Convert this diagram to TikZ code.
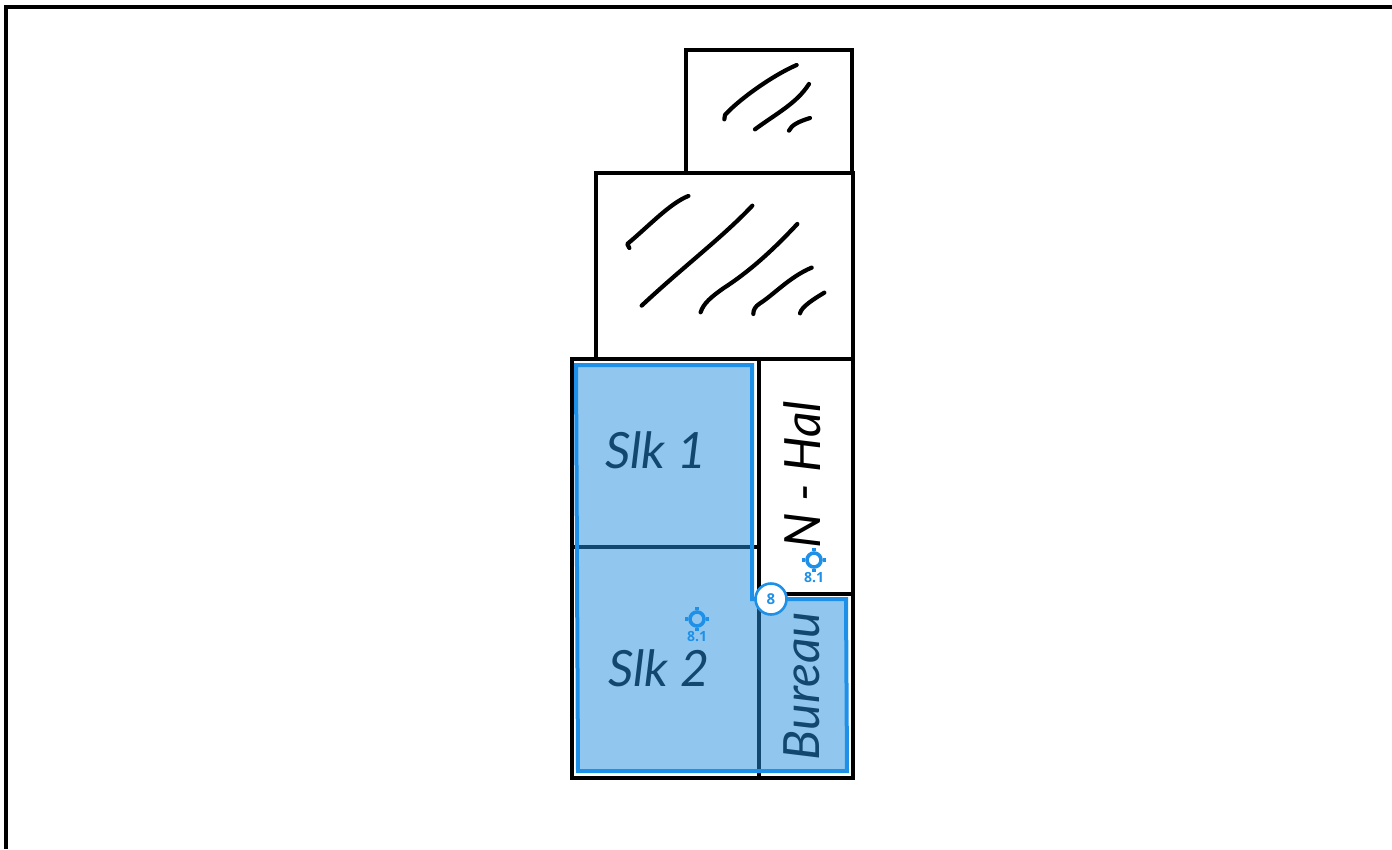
\documentclass[tikz,border=0pt]{standalone}
\usepackage{fontspec}
\setmainfont{Open Sans}
\newfontfamily\handfont{Lato}
\definecolor{mark}{HTML}{1F90E8}
\definecolor{zonefill}{HTML}{2490DF}
\tikzset{
  plan/.style={draw=black,line width=4.4pt,line join=miter,line cap=rect},
  hatchline/.style={draw=black,line width=4.2pt,line cap=round,line join=round},
  handtext/.style={font=\handfont\itshape\fontsize{50}{50}\selectfont,text=black,inner sep=0pt},
  handside/.style={font=\handfont\itshape\fontsize{50}{50}\selectfont,text=black,inner sep=0pt,rotate=90},
  marklabel/.style={font=\bfseries\fontsize{14}{14}\selectfont,text=mark,inner sep=0pt},
  ring/.style={circle,draw=mark,line width=3.6pt,minimum size=14pt,inner sep=0pt},
  tick/.style={draw=mark,line width=3.6pt},
  badge/.style={circle,draw=mark,fill=white,line width=2.6pt,minimum size=31pt,inner sep=0pt,text=mark,font=\bfseries\fontsize{15}{15}\selectfont}
}
\begin{document}
\begin{tikzpicture}[x=1pt,y=-1pt]
\useasboundingbox (0,0) rectangle (1392,849);
% outer frame
\draw[black,line width=3.6pt] (6,849) -- (6,7) -- (1392,7);
% plan
\draw[plan] (686,173) -- (686,50) -- (852,50) -- (852,173);
\draw[plan] (596,359) -- (596,173) -- (853,173) -- (853,359);
\draw[plan] (572,359) rectangle (853,778);
\draw[plan,line cap=butt] (759,359) -- (759,778);
\draw[plan,line cap=butt] (572,547) -- (759,547);
\draw[plan,line cap=butt] (759,594) -- (853,594);
% hatching
\begin{scope}[shift={(590,40)},x=0.3333pt,y=-0.3333pt]
\draw[hatchline] (620,75) .. controls (540,110) and (440,185) .. (405,225) -- (403,238);
\draw[hatchline] (657,132) .. controls (620,190) and (560,220) .. (495,268);
\draw[hatchline] (660,234) .. controls (625,245) and (605,255) .. (597,272);
\draw[hatchline] (295,468) .. controls (240,490) and (180,555) .. (112,612) -- (118,624);
\draw[hatchline] (487,497) .. controls (400,590) and (280,680) .. (155,797);
\draw[hatchline] (622,552) .. controls (540,640) and (470,700) .. (400,745) .. controls (365,770) and (340,790) .. (332,817);
\draw[hatchline] (665,683) .. controls (600,710) and (550,765) .. (510,790) .. controls (495,800) and (490,810) .. (490,822);
\draw[hatchline] (703,758) .. controls (670,778) and (635,800) .. (630,820);
\end{scope}
% hand labels
\node[handtext] (slk1) at (656,450) {Slk 1};
\node[handtext] (slk2) at (659,668) {Slk 2};
\node[handside] (nhal) at (802,475) {N - Hal};
\node[handside] (bureau) at (802,686) {Bureau};
% zone
\draw[draw=mark,line width=4pt,fill=zonefill,fill opacity=0.5,line join=miter]
  (576,365) -- (752,365) -- (752,599) -- (846,599) -- (847,771) -- (578,771) -- cycle;
% markers
\node[ring] (m1) at (697,619) {};
\draw[tick] (m1.north) -- ++(0,-3.5) (m1.south) -- ++(0,3.5) (m1.west) -- ++(-3.5,0) (m1.east) -- ++(3.5,0);
\node[marklabel] (m1t) at (697,637) {8.1};
\node[ring] (m2) at (814,560) {};
\draw[tick] (m2.north) -- ++(0,-3.5) (m2.south) -- ++(0,3.5) (m2.west) -- ++(-3.5,0) (m2.east) -- ++(3.5,0);
\node[marklabel] (m2t) at (814,578) {8.1};
\node[badge] (b8) at (771,599) {8};
\end{tikzpicture}
\end{document}
